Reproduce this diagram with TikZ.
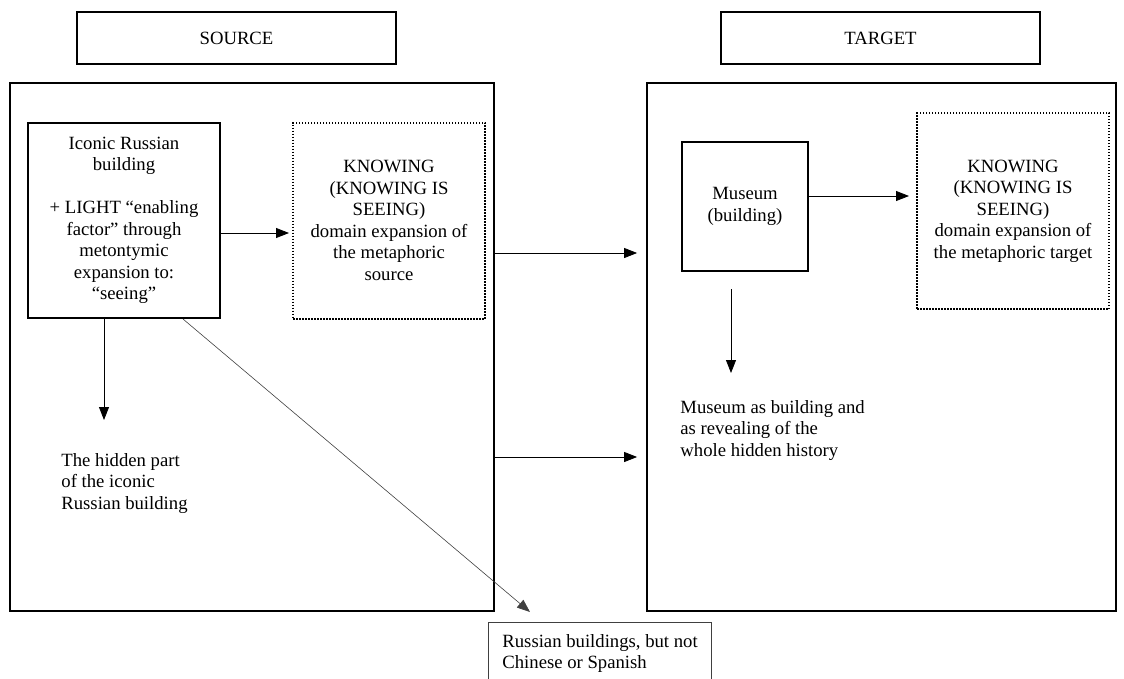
\documentclass[tikz,border=0pt]{standalone}
\usepackage{fontspec}
\setmainfont{Liberation Serif}
\usetikzlibrary{arrows.meta}

\begin{document}
\begin{tikzpicture}[x=1pt,y=-1pt,->,>={Triangle[length=13pt,width=10pt]},line width=0.8pt,
	every node/.style={font=\fontsize{18.7}{21.5}\selectfont,inner sep=0pt},
	headbox/.style={draw,line width=1.5pt,minimum width=319pt,minimum height=52pt},
	domainbox/.style={draw,line width=1.8pt,minimum height=528pt},
	conceptbox/.style={draw,line width=2pt,align=center},
	knowbox/.style={draw,line width=2pt,dash pattern=on 1.5pt off 1.5pt,align=center,minimum width=192pt,minimum height=196pt}]
	\useasboundingbox (0,0) rectangle (1124,678);
	% headings
	\node[headbox] (src) at (236.5,38) {SOURCE};
	\node[headbox] (tgt) at (880.5,38) {TARGET};
	% domains
	\node[domainbox,minimum width=484pt] (srcdom) at (252,347) {};
	\node[domainbox,minimum width=469pt] (tgtdom) at (881.5,347) {};
	% source side
	\node[conceptbox,minimum width=192pt,minimum height=195pt] (iconic) at (124,220.5)
		{Iconic Russian\\building\\[21.5pt]+ LIGHT “enabling\\factor” through\\metontymic\\expansion to:\\“seeing”};
	\node[knowbox] (knowsrc) at (389,220.5)
		{KNOWING\\(KNOWING IS\\SEEING)\\domain expansion of\\the metaphoric\\source};
	\node[align=left,anchor=north west] (hidden) at (61,453) {The hidden part\\of the iconic\\Russian building};
	% target side
	\node[conceptbox,minimum width=126pt,minimum height=129pt] (museum) at (745,206.5) {Museum\\(building)};
	\node[knowbox] (knowtgt) at (1013,211)
		{KNOWING\\(KNOWING IS\\SEEING)\\domain expansion of\\the metaphoric target};
	\node[align=left,anchor=north west] (museumtext) at (680,400)
		{Museum as building and\\as revealing of the\\whole hidden history};
	% outside
	\node[draw=black!75,line width=0.8pt,anchor=north west,inner xsep=14pt,inner ysep=12pt,
		align=left] (russia) at (488,622) {Russian buildings, but not\\Chinese or Spanish};

	\draw[shorten >=3pt] ([yshift=-12.5pt]iconic.east) -- ([yshift=-12.5pt]knowsrc.west);
	\draw[shorten >=33pt] ([xshift=-20pt]iconic.south) -- ([xshift=-20pt]iconic.south |- hidden.north);
	\draw[line width=0.6pt,black!75] ([xshift=59pt]iconic.south) -- ([shift={(42,-10)}]russia.north west);
	\draw[shorten >=9pt] ([yshift=94pt]srcdom.east) -- ([yshift=94pt]tgtdom.west);
	\draw[shorten >=9pt] ([yshift=-110pt]srcdom.east) -- ([yshift=-110pt]tgtdom.west);
	\draw[shorten >=7pt] ([yshift=10.5pt]museum.east) -- ([yshift=15pt]knowtgt.west);
	\draw[shorten <=17pt,shorten >=27pt] ([xshift=-14pt]museum.south) -- ([xshift=-14pt]museum.south |- museumtext.north);
\end{tikzpicture}
\end{document}
